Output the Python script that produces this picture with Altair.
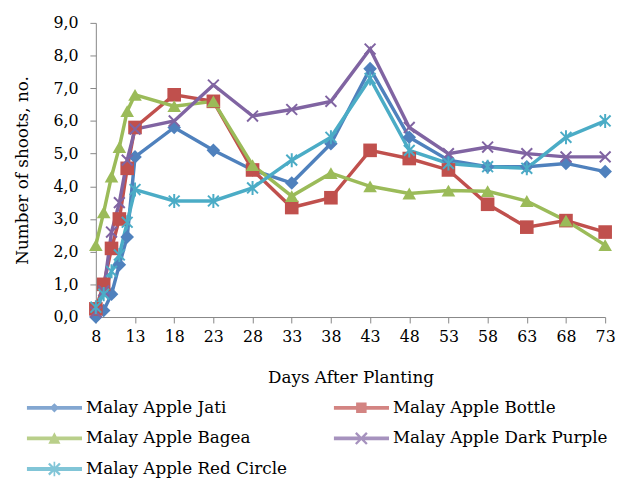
import altair as alt
import pandas as pd

days = [8, 9, 10, 11, 12, 13, 18, 23, 28, 33, 38, 43, 48, 53, 58, 63, 68, 73]
series_names = ["Malay Apple Jati", "Malay Apple Bottle", "Malay Apple Bagea",
                "Malay Apple Dark Purple", "Malay Apple Red Circle"]
jati = [0.0, 0.2, 0.7, 1.6, 2.45, 4.9, 5.8, 5.1, 4.5, 4.1, 5.3, 7.6, 5.5, 4.8, 4.6, 4.6, 4.7, 4.45]
bottle = [0.25, 1.0, 2.1, 3.0, 4.55, 5.8, 6.8, 6.6, 4.5, 3.35, 3.65, 5.1, 4.85, 4.5, 3.45, 2.75, 2.95, 2.6]
bagea = [2.2, 3.2, 4.3, 5.2, 6.3, 6.8, 6.45, 6.6, 4.65, 3.7, 4.4, 4.0, 3.78, 3.87, 3.85, 3.55, 2.95, 2.2]
dark_purple = [0.15, 0.8, 2.6, 3.5, 4.8, 5.75, 6.0, 7.1, 6.15, 6.35, 6.6, 8.2, 5.8, 5.0, 5.2, 5.0, 4.9, 4.9]
red_circle = [0.3, 0.7, 1.4, 1.9, 2.9, 3.9, 3.55, 3.55, 3.95, 4.8, 5.5, 7.3, 5.1, 4.7, 4.6, 4.55, 5.5, 6.0]
x_ticks = [8, 13, 18, 23, 28, 33, 38, 43, 48, 53, 58, 63, 68, 73]
y_ticks = [0, 1, 2, 3, 4, 5, 6, 7, 8, 9]

colors = ["#4F81BD", "#C0504D", "#9BBB59", "#8064A2", "#4BACC6"]

rows = []
for name, vals in zip(series_names, [jati, bottle, bagea, dark_purple, red_circle]):
    for d, v in zip(days, vals):
        rows.append({"day": d, "value": v, "series": name, "label": name})
df = pd.DataFrame(rows)

FONT = "DejaVu Serif"

# marker shapes for the plot
point_shapes = [
    "diamond",
    "square",
    "triangle-up",
    "M-1,-1L1,1M-1,1L1,-1",
    "M-1,-1L1,1M-1,1L1,-1M0,-1.3L0,1.3",
]

# legend symbols: line + marker (filled polygons, same winding)
line_rect = "M-1,-0.07L1,-0.07L1,0.07L-1,0.07Z"
w = 0.03
a = 0.2
x1 = f"M{-a+w},{-a-w}L{a+w},{a-w}L{a-w},{a+w}L{-a-w},{-a+w}Z"
x2 = f"M{-a-w},{a-w}L{a-w},{-a-w}L{a+w},{-a+w}L{-a+w},{a+w}Z"
vbar = "M-0.03,-0.26L0.03,-0.26L0.03,0.26L-0.03,0.26Z"
legend_shapes = [
    line_rect + "M0,-0.17L0.17,0L0,0.17L-0.17,0Z",
    line_rect + "M-0.19,-0.19L0.19,-0.19L0.19,0.19L-0.19,0.19Z",
    line_rect + "M0,-0.22L0.22,0.19L-0.22,0.19Z",
    line_rect + x1 + x2,
    line_rect + x1 + x2 + vbar,
]

x_enc = alt.X("day:Q", scale=alt.Scale(domain=[8, 73], nice=False, zero=False),
              axis=alt.Axis(values=x_ticks, title="Days After Planting", grid=False,
                            domainColor="#868686", tickColor="#868686", tickSize=6,
                            labelPadding=6, titlePadding=25, labelFontSize=16,
                            titleFontSize=17, titleFontWeight="normal", labelFlush=False,
                            labelOverlap=False, labelSeparation=0))
y_enc = alt.Y("value:Q", scale=alt.Scale(domain=[0, 9], nice=False),
              axis=alt.Axis(values=y_ticks, title="Number of shoots, no.", grid=False,
                            labelExpr="replace(format(datum.value, '.1f'), '.', ',')",
                            domainColor="#868686", tickColor="#868686", tickSize=6,
                            labelPadding=12, titlePadding=22, labelFontSize=16,
                            titleFontSize=17, titleFontWeight="normal",
                            labelOverlap=False, labelFlush=False, labelSeparation=0))
color_scale = alt.Scale(domain=series_names, range=colors)
shape_scale = alt.Scale(domain=series_names, range=point_shapes)

base = alt.Chart(df)

lines = base.mark_line(strokeWidth=3.5).encode(
    x=x_enc, y=y_enc,
    color=alt.Color("series:N", scale=color_scale, legend=None),
)

filled_pts = base.transform_filter(
    alt.FieldOneOfPredicate(field="series", oneOf=series_names[:3])
).mark_point(filled=True, size=190, opacity=1).encode(
    x=x_enc, y=y_enc,
    color=alt.Color("series:N", scale=color_scale, legend=None),
    shape=alt.Shape("series:N", scale=shape_scale, legend=None),
)

stroked_pts = base.transform_filter(
    alt.FieldOneOfPredicate(field="series", oneOf=series_names[3:])
).mark_point(filled=False, size=120, strokeWidth=2, opacity=1).encode(
    x=x_enc, y=y_enc,
    color=alt.Color("series:N", scale=color_scale, legend=None),
    shape=alt.Shape("series:N", scale=shape_scale, legend=None),
)

legend_props = dict(
    title=None, orient="none", legendX=-70, legendY=380, columns=2,
    direction="horizontal",
    symbolSize=3136, clipHeight=20, rowPadding=11, columnPadding=47,
    labelOffset=4, labelFont=FONT, labelFontSize=17, labelColor="black",
    labelLimit=400, symbolStrokeWidth=0,
)
legend_layer = base.mark_point(filled=True, size=0).encode(
    x=x_enc, y=y_enc,
    color=alt.Color("label:N", scale=alt.Scale(domain=series_names, range=colors),
                    legend=alt.Legend(**legend_props)),
    shape=alt.Shape("label:N", scale=alt.Scale(domain=series_names, range=legend_shapes),
                    legend=alt.Legend(**legend_props)),
)

chart = alt.layer(lines, filled_pts, stroked_pts, legend_layer).resolve_scale(
    color="independent", shape="independent"
).properties(
    width=516, height=298,
    autosize=alt.AutoSizeParams(type="none"),
    padding={"left": 89, "top": 12, "right": 12, "bottom": 160},
).configure_view(stroke=None).configure_axis(
    labelFont=FONT, titleFont=FONT, labelColor="black", titleColor="black",
    labelOverlap=False,
)

chart.save("out.html", embed_options={"renderer": "svg", "actions": False})
